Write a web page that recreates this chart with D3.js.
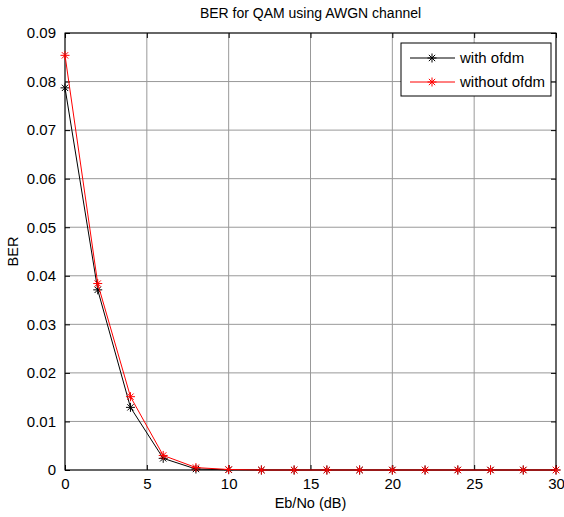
<!DOCTYPE html>
<html>
<head>
<meta charset="utf-8">
<script src="https://cdn.jsdelivr.net/npm/d3@7"></script>
<style>
  body { margin: 0; background: #fff; }
  svg text { font-family: "Liberation Sans", Arial, sans-serif; fill: #000; }
</style>
</head>
<body>
<div id="chart"></div>
<script>
const ebno = [0, 2, 4, 6, 8, 10, 12, 14, 16, 18, 20, 22, 24, 26, 28, 30];
const berOfdm = [0.0787, 0.0371, 0.0129, 0.0024, 0.0002, 0.00005, 0, 0, 0, 0, 0, 0, 0, 0, 0, 0];
const berNoOfdm = [0.0854, 0.0384, 0.0151, 0.0030, 0.0005, 0.0001, 0, 0, 0, 0, 0, 0, 0, 0, 0, 0];
const xTicks = [0, 5, 10, 15, 20, 25, 30];
const yTicks = [0, 0.01, 0.02, 0.03, 0.04, 0.05, 0.06, 0.07, 0.08, 0.09];
const seriesNames = ["with ofdm", "without ofdm"];
const seriesColors = ["#000000", "#ff0000"];

const width = 564, height = 517;
const margin = { top: 33, right: 8, bottom: 47, left: 65 };
const mwidth = width - margin.left - margin.right;
const mheight = height - margin.top - margin.bottom;

const svg = d3.select("#chart").append("svg")
    .attr("width", width)
    .attr("height", height);

const xScale = d3.scaleLinear().domain([0, 30]).range([0, mwidth]);
const yScale = d3.scaleLinear().domain([0, 0.09]).range([mheight, 0]);

const g = svg.append("g")
    .attr("transform", "translate(" + margin.left + "," + margin.top + ")");

// grid
g.selectAll(".xgrid").data(xTicks).enter().append("line")
    .attr("x1", d => xScale(d)).attr("x2", d => xScale(d))
    .attr("y1", 0).attr("y2", mheight)
    .attr("stroke", "#999").attr("stroke-width", 1);
g.selectAll(".ygrid").data(yTicks).enter().append("line")
    .attr("x1", 0).attr("x2", mwidth)
    .attr("y1", d => yScale(d)).attr("y2", d => yScale(d))
    .attr("stroke", "#999").attr("stroke-width", 1);

// axes (matlab style: inward ticks on every side)
const xAxis = d3.axisBottom(xScale).tickValues(xTicks).tickSizeInner(-5).tickSizeOuter(0).tickPadding(8);
const yAxis = d3.axisLeft(yScale).tickValues(yTicks).tickFormat(d => d === 0 ? "0" : d3.format(".2f")(d))
    .tickSizeInner(-5).tickSizeOuter(0).tickPadding(9);

function styleAxis(a) {
    a.select(".domain").remove();
    a.selectAll("line").attr("stroke", "#000");
    a.selectAll("text").style("font-size", "15px").attr("fill", "#000");
}

g.append("g").attr("transform", "translate(0," + mheight + ")").call(xAxis).call(styleAxis);
g.append("g").call(yAxis).call(styleAxis);
g.append("g").call(d3.axisTop(xScale).tickValues(xTicks).tickSizeInner(-5).tickSizeOuter(0).tickFormat(""))
    .call(styleAxis);
g.append("g").attr("transform", "translate(" + mwidth + ",0)")
    .call(d3.axisRight(yScale).tickValues(yTicks).tickSizeInner(-5).tickSizeOuter(0).tickFormat(""))
    .call(styleAxis);

g.append("rect")
    .attr("width", mwidth).attr("height", mheight)
    .attr("fill", "none").attr("stroke", "#000").attr("stroke-width", 1);

// asterisk marker
function star(sel, r) {
    const d = "M" + (-r) + ",0L" + r + ",0M0," + (-r) + "L0," + r +
        "M" + (-r * 0.7) + "," + (-r * 0.7) + "L" + (r * 0.7) + "," + (r * 0.7) +
        "M" + (-r * 0.7) + "," + (r * 0.7) + "L" + (r * 0.7) + "," + (-r * 0.7);
    sel.attr("d", d);
}

const series = [berOfdm, berNoOfdm];
const line = d3.line().x((d, i) => xScale(ebno[i])).y(d => yScale(d));

series.forEach((s, k) => {
    g.append("path")
        .datum(s)
        .attr("d", line)
        .attr("fill", "none")
        .attr("stroke", seriesColors[k])
        .attr("stroke-width", 1);
    g.selectAll(".m" + k).data(s).enter().append("path")
        .attr("transform", (d, i) => "translate(" + xScale(ebno[i]) + "," + yScale(d) + ")")
        .call(star, 4.5)
        .attr("fill", "none")
        .attr("stroke", seriesColors[k])
        .attr("stroke-width", 1);
});

// title and labels
svg.append("text")
    .attr("x", margin.left + mwidth / 2).attr("y", 18)
    .attr("text-anchor", "middle").style("font-size", "14px")
    .text("BER for QAM using AWGN channel");

svg.append("text")
    .attr("x", margin.left + mwidth / 2).attr("y", 508)
    .attr("text-anchor", "middle").style("font-size", "14.5px")
    .text("Eb/No (dB)");

svg.append("text")
    .attr("transform", "translate(18," + (margin.top + mheight / 2) + ") rotate(-90)")
    .attr("text-anchor", "middle").style("font-size", "14.5px")
    .text("BER");

// legend
const legend = svg.append("g").attr("transform", "translate(401,43)");
legend.append("rect")
    .attr("width", 150).attr("height", 53)
    .attr("fill", "#fff").attr("stroke", "#000").attr("stroke-width", 1);
seriesNames.forEach((name, k) => {
    const y = 15 + k * 24;
    legend.append("line")
        .attr("x1", 9).attr("x2", 54).attr("y1", y).attr("y2", y)
        .attr("stroke", seriesColors[k]).attr("stroke-width", 1);
    legend.append("path")
        .attr("transform", "translate(31," + y + ")")
        .call(star, 4.5)
        .attr("fill", "none").attr("stroke", seriesColors[k]);
    legend.append("text")
        .attr("x", 59).attr("y", y + 5)
        .style("font-size", "15px")
        .text(name);
});
</script>
</body>
</html>
